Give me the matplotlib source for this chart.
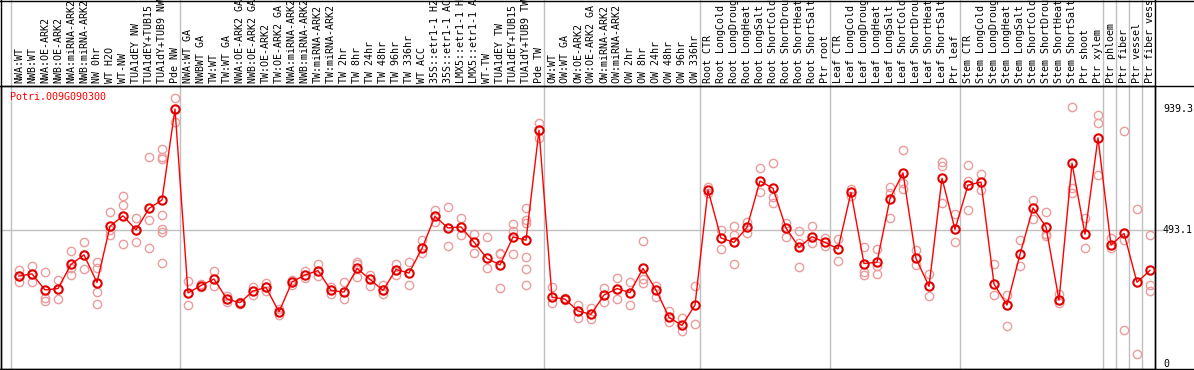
import matplotlib
matplotlib.use("Agg")
import matplotlib.pyplot as plt
from matplotlib.transforms import blended_transform_factory

W, H = 1194, 370
GENE = "Potri.009G090300"
MONO = "DejaVu Sans Mono"

samples = [
    "NWA:WT", "NWB:WT", "NWA:OE-ARK2", "NWB:OE-ARK2", "NWA:miRNA-ARK2",
    "NWB:miRNA-ARK2", "NW 0hr", "WT H2O", "WT-NW", "TUA1dEY NW",
    "TUA1dEY+TUB15 NW", "TUA1dY+TUB9 NW", "Pde NW",
    "NWA:WT GA", "NWBWT GA", "TW:WT", "TW:WT GA", "NWA:OE-ARK2 GA",
    "NWB:OE-ARK2 GA", "TW:OE-ARK2", "TW:OE-ARK2 GA", "NWA:miRNA-ARK2 GA",
    "NWB:miRNA-ARK2 GA", "TW:miRNA-ARK2", "TW:miRNA-ARK2 GA", "TW 2hr",
    "TW 8hr", "TW 24hr", "TW 48hr", "TW 96hr", "TW 336hr", "WT ACC",
    "35S::etr1-1 H2O", "35S::etr1-1 ACC", "LMX5::etr1-1 H2O",
    "LMX5::etr1-1 ACC", "WT-TW", "TUA1dEY TW", "TUA1dEY+TUB15 TW",
    "TUA1dY+TUB9 TW", "Pde TW",
    "OW:WT", "OW:WT GA", "OW:OE-ARK2", "OW:OE-ARK2 GA", "OW:miRNA-ARK2",
    "OW:miRNA-ARK2 GA", "OW 2hr", "OW 8hr", "OW 24hr", "OW 48hr", "OW 96hr",
    "OW 336hr",
    "Root CTR", "Root LongCold", "Root LongDrought", "Root LongHeat",
    "Root LongSalt", "Root ShortCold", "Root ShortDrought", "Root ShortHeat",
    "Root ShortSalt", "Ptr root",
    "Leaf CTR", "Leaf LongCold", "Leaf LongDrought", "Leaf LongHeat",
    "Leaf LongSalt", "Leaf ShortCold", "Leaf ShortDrought", "Leaf ShortHeat",
    "Leaf ShortSalt", "Ptr leaf",
    "Stem CTR", "Stem LongCold", "Stem LongDrought", "Stem LongHeat",
    "Stem LongSalt", "Stem ShortCold", "Stem ShortDrought", "Stem ShortHeat",
    "Stem ShortSalt", "Ptr shoot", "Ptr xylem",
    "Ptr phloem", "Ptr fiber", "Ptr vessel", "Ptr fiber vessel",
]

# mean expression per sample
means = [
    324, 332, 273, 278, 367, 402, 300, 507, 546, 494, 573, 604, 939.3,
    262, 289, 313, 239, 226, 269, 282, 192, 302, 328, 344, 271, 265, 352,
    312, 271, 348, 335, 426, 544, 501, 505, 449, 389, 365, 468, 456, 861,
    246, 239, 195, 183, 254, 278, 263, 352, 273, 172, 142, 217,
    641, 464, 448, 503, 674, 647, 501, 430, 469, 448,
    424, 632, 370, 375, 609, 704, 389, 286, 684, 496,
    659, 670, 295, 217, 404, 575, 505, 235, 740, 478, 833,
    438, 481, 301, 345,
]

# replicate values per sample
replicates = [
    [345, 303, 324], [361, 303, 332], [339, 242, 233], [311, 241, 278],
    [415, 327, 355], [451, 349, 402], [375, 352, 264, 220], [560, 474, 494],
    [618, 585, 441], [537, 448, 494], [761, 530, 426],
    [791, 761, 755, 548, 496, 488, 371], [980, 893, 939],
    [306, 217], [295, 285], [341, 286], [252, 227], [230, 222],
    [285, 254], [297, 282, 268], [179, 192, 204], [311, 291, 302],
    [341, 318], [368, 324], [284, 259], [301, 238], [375, 368, 319],
    [327, 286], [291, 258, 271], [370, 329], [375, 290], [457, 408],
    [566, 523], [578, 435], [537, 474], [479, 409], [468, 354],
    [405, 280, 409], [516, 491, 405], [575, 530, 518, 393, 349, 291],
    [888, 834, 861],
    [282, 224], [242, 237], [217, 171], [205, 165], [280, 228], [316, 239],
    [301, 217], [453, 312, 297], [289, 246], [195, 154], [168, 123],
    [287, 146],
    [653, 631], [494, 424], [508, 475, 368], [524, 484], [721, 635],
    [740, 614, 592], [521, 468], [490, 447, 357], [508, 447], [463, 435],
    [460, 378], [645, 620], [431, 340, 327], [424, 362, 330],
    [651, 631, 537], [787, 668, 643], [419, 363], [333, 251],
    [743, 731, 592], [551, 448],
    [733, 675, 567], [700, 641], [368, 254], [254, 139, 217], [457, 362],
    [604, 533], [560, 480, 472], [258, 224], [945, 650, 629], [539, 427],
    [917, 887, 695],
    [463, 426], [858, 457, 125], [571, 37], [474, 291, 270],
]

y_ticks = [939.3, 493.1, 0]
group_ends = [12, 40, 52, 62, 72, 83, 84, 85, 86]


def px_x(p):
    return p / W


def px_y(p):
    return (H - p) / H


fig = plt.figure(figsize=(W / 100, H / 100), dpi=100)
ax = fig.add_axes([px_x(1), px_y(369), px_x(1155) - px_x(1), px_y(86) - px_y(369)])
ax.set_xlim(-18 / 13, 1136 / 13)
ax.set_ylim(-18.4, 1024)
ax.set_xticks([])
ax.set_yticks([])
for s in ax.spines.values():
    s.set_color("black")
    s.set_linewidth(1)

col_x = range(len(samples))
header = blended_transform_factory(ax.transData, fig.transFigure)
right_side = blended_transform_factory(fig.transFigure, ax.transData)

# column separators run through the header
for gx in [-0.64] + [g + 0.4 for g in group_ends]:
    ax.plot([gx, gx], [0, 1], color="#c0c0c0", lw=1, transform=header, clip_on=False, zorder=0)
ax.plot([87.385, 87.385], [0, 1], color="black", lw=1, transform=header, clip_on=False)

fig.add_artist(plt.Line2D([0, 1], [px_y(85.5), px_y(85.5)], color="black", lw=1))
fig.add_artist(plt.Line2D([0, 1], [px_y(369), px_y(369)], color="black", lw=1))
fig.add_artist(plt.Line2D([0, 1], [px_y(0.5), px_y(0.5)], color="black", lw=1))
fig.add_artist(plt.Line2D([px_x(1), px_x(1)], [0, 1], color="black", lw=1))

ax.axhline(493.1, xmin=0, xmax=(1162 - 1) / 1154, color="#c0c0c0", lw=1, clip_on=False, zorder=0)

for i, name in enumerate(samples):
    ax.text(i, px_y(83), name, rotation=90, ha="center", va="bottom",
            fontsize=7.2, family=MONO, transform=header, clip_on=False)

for i, reps in enumerate(replicates):
    ax.plot([i] * len(reps), reps, ls="none", marker="o", ms=6, mfc="none",
            mec="#ec9c9c", mew=1, zorder=2)

ax.plot(col_x, means, color="red", lw=1, marker="o", ms=6, mfc="none",
        mec="#e00000", mew=1.5, zorder=3)

ax.text(px_x(10), px_y(97), GENE, color="red", fontsize=7.2, family=MONO,
        ha="left", va="center", transform=fig.transFigure)

for v in y_ticks:
    lab = "0" if v == 0 else f"{v:.1f}"
    ax.text(px_x(1163), v, lab, fontsize=7.2, family=MONO, ha="left",
            va="center", transform=right_side, clip_on=False)

fig.savefig("out.png", dpi=100)
